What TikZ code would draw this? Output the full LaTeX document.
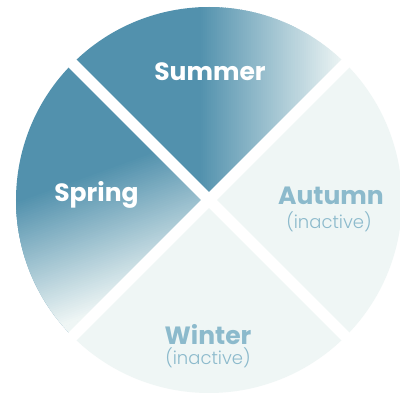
\documentclass[tikz,border=0pt]{standalone}
\usepackage{fontspec}
\setmainfont{Poppins}
\newfontfamily\plight{Poppins Light}
\definecolor{dark}{HTML}{5291AD}
\definecolor{pale}{HTML}{EFF6F5}
\definecolor{txt}{HTML}{8CBACC}
\tikzset{
  lbl/.style={font=\bfseries\fontsize{25}{25}\selectfont, anchor=base, inner sep=0pt},
  sub/.style={font=\plight\fontsize{18}{18}\selectfont, anchor=base, inner sep=0pt, text=txt},
  gap/.style={white, line width=11pt}
}
\begin{document}
\begin{tikzpicture}[x=1pt,y=1pt]
\useasboundingbox (-209,-199) rectangle (191,200);
\fill[white] (-209,-199) rectangle (191,200);
\def\R{193}
% Autumn
\fill[pale] (0,0) -- (-45:\R) arc (-45:45:\R) -- cycle;
% Winter
\fill[pale] (0,0) -- (-135:\R) arc (-135:-45:\R) -- cycle;
% Summer: horizontal fade, dark left of x=-9, pale at x=136.5
\begin{scope}
  \clip (0,0) -- (45:\R) arc (45:135:\R) -- cycle;
  \fill[dark] (-200,-10) rectangle (-8,210);
  \foreach \k in {0,...,72} {
    \pgfmathsetmacro{\s}{\k/72}
    \pgfmathsetmacro{\m}{100*(1-\s)}
    \pgfmathsetmacro{\xx}{-9+145.5*\s}
    \fill[dark!\m!pale] (\xx-1.5,-10) rectangle (\xx+1.5,210);
  }
\end{scope}
% Spring: tilted vertical fade
\begin{scope}
  \clip (0,0) -- (135:\R) arc (135:225:\R) -- cycle;
  \fill[dark] (-210,-210) rectangle (10,210);
  \begin{scope}[rotate=20]
    \foreach \k in {0,...,66} {
      \pgfmathsetmacro{\s}{\k/66}
      \pgfmathsetmacro{\m}{100*(1-\s)}
      \pgfmathsetmacro{\p}{64-132*\s}
      \fill[dark!\m!pale] (-300,\p-1.5) rectangle (300,\p+1.5);
    }
    \fill[pale] (-300,-69) rectangle (300,-340);
  \end{scope}
\end{scope}
% gaps
\draw[gap] (135:200) -- (-45:200);
\draw[gap] (45:200) -- (-135:200);
% labels
\node[lbl, text=white] (summer) at (1,119) {Summer};
\node[lbl, text=white] (spring) at (-112.5,-2) {Spring};
\node[lbl, text=txt] (autumn) at (122,-5) {Autumn};
\node[sub] (autumnsub) at (120,-29) {(inactive)};
\node[lbl, text=txt] (winter) at (-1,-145) {Winter};
\node[sub] (wintersub) at (-1,-165) {(inactive)};
\end{tikzpicture}
\end{document}
